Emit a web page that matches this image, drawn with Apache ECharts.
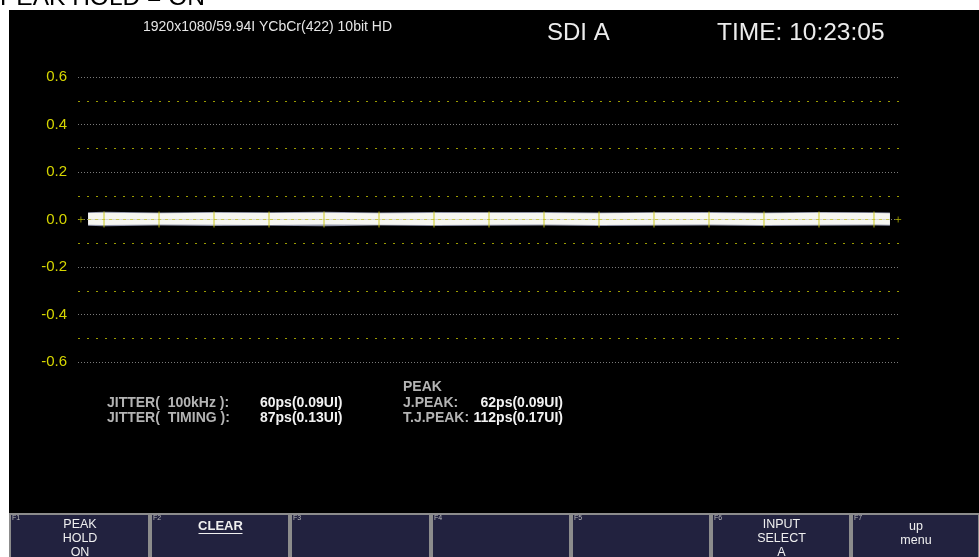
<!DOCTYPE html>
<html>
<head>
<meta charset="utf-8">
<script src="https://cdn.jsdelivr.net/npm/echarts@6/dist/echarts.min.js"></script>
<style>
html,body{margin:0;padding:0;background:#fff;}
#c{width:979px;height:557px;}
</style>
</head>
<body>
<div id="c"></div>
<script>
// ---- data ----
const yTickLabels = ['-0.6','-0.4','-0.2','0.0','0.2','0.4','0.6'];
const traceX     = [0.71, 1, 2, 3, 4, 5, 6, 7, 8, 9, 10, 11, 12, 13, 14, 15, 15.29];
const traceUpper = [0.027,0.028,0.026,0.028,0.027,0.028,0.026,0.027,0.028,0.027,0.026,0.028,0.027,0.026,0.028,0.027,0.026];
const traceLower = [-0.022,-0.023,-0.021,-0.022,-0.023,-0.021,-0.022,-0.023,-0.022,-0.021,-0.023,-0.022,-0.021,-0.023,-0.022,-0.021,-0.022];
const haloUpper  = [0.031,0.033,0.030,0.032,0.031,0.033,0.030,0.032,0.031,0.032,0.030,0.031,0.032,0.030,0.032,0.031,0.030];
const haloLower  = [-0.026,-0.028,-0.025,-0.027,-0.026,-0.028,-0.025,-0.027,-0.026,-0.025,-0.027,-0.026,-0.025,-0.027,-0.026,-0.025,-0.026];
const tickX      = [1,2,3,4,5,6,7,8,9,10,11,12,13,14,15];
const endMarksX  = [0.58, 15.44];

const headerFormat = '1920x1080/59.94I YCbCr(422) 10bit HD';
const inputName = 'SDI A';
const timeText = 'TIME: 10:23:05';
const modeText = 'PEAK HOLD = ON';
const jitterLabels = ['JITTER(  100kHz ):', 'JITTER(  TIMING ):'];
const jitterValues = ['60ps(0.09UI)', '87ps(0.13UI)'];
const peakTitle = 'PEAK';
const peakLabels = ['J.PEAK:', 'T.J.PEAK:'];
const peakValues = ['62ps(0.09UI)', '112ps(0.17UI)'];
const fnKeys = [['PEAK','HOLD','ON'],['CLEAR'],[],[],[],['INPUT','SELECT','A'],['up','menu']];

// ---- layout ----
const FONT = '"Liberation Sans", Arial, sans-serif';
const chart = echarts.init(document.getElementById('c'), null, {renderer:'canvas'});

function pairs(xs, ys){ return xs.map((x,i)=>[x, ys[i]]); }

const graphics = [];
graphics.push({type:'rect', z:-100, silent:true, shape:{x:9,y:10,width:970,height:504}, style:{fill:'#000'}});
graphics.push({type:'text', x:0, y:-2, style:{text:modeText, font:'24.5px '+FONT, fill:'#000', textVerticalAlign:'middle'}});
graphics.push({type:'text', x:143, y:27, style:{text:headerFormat, font:'14px '+FONT, fill:'#e6e6e6', textVerticalAlign:'middle'}});
graphics.push({type:'text', x:547, y:33, style:{text:inputName, font:'24px '+FONT, fill:'#ececec', textVerticalAlign:'middle'}});
graphics.push({type:'text', x:717, y:33, style:{text:timeText, font:'24.5px '+FONT, fill:'#ececec', textVerticalAlign:'middle'}});

// jitter readouts
jitterLabels.forEach((t,i)=>{
  graphics.push({type:'text', x:107, y:403+i*15, style:{text:t, font:'bold 14px '+FONT, fill:'#b4b4b4', textVerticalAlign:'middle'}});
});
jitterValues.forEach((t,i)=>{
  graphics.push({type:'text', x:260, y:403+i*15, style:{text:t, font:'bold 14px '+FONT, fill:'#f2f2f2', textVerticalAlign:'middle'}});
});
graphics.push({type:'text', x:403, y:387, style:{text:peakTitle, font:'bold 14px '+FONT, fill:'#b4b4b4', textVerticalAlign:'middle'}});
peakLabels.forEach((t,i)=>{
  graphics.push({type:'text', x:403, y:403+i*15, style:{text:t, font:'bold 14px '+FONT, fill:'#b4b4b4', textVerticalAlign:'middle'}});
});
peakValues.forEach((t,i)=>{
  graphics.push({type:'text', x:563, y:403+i*15, style:{text:t, font:'bold 14px '+FONT, fill:'#f2f2f2', textAlign:'right', textVerticalAlign:'middle'}});
});

// function keys
const keyX = [9,150,290,431,571,711,851];
keyX.forEach((x,i)=>{
  const w = (i < keyX.length-1 ? keyX[i+1] : 980) - x - 1;
  graphics.push({type:'rect', shape:{x:x+1, y:514, width:w-1, height:50}, style:{fill:'#22223f', stroke:'#8c8c8c', lineWidth:2}});
  graphics.push({type:'text', x:x+3, y:518, style:{text:'F'+(i+1), font:'7px '+FONT, fill:'#bbbbbb', textVerticalAlign:'middle'}});
  const cx = x + w/2 + 1;
  const lines = fnKeys[i];
  if (i === 1) {
    graphics.push({type:'text', x:cx, y:526, style:{text:lines[0], font:'bold 13px '+FONT, fill:'#f0f0f0', textAlign:'center', textVerticalAlign:'middle'}});
    graphics.push({type:'line', shape:{x1:cx-22, y1:533.5, x2:cx+22, y2:533.5}, style:{stroke:'#f0f0f0', lineWidth:1}});
  } else if (i === 6) {
    lines.forEach((t,j)=>{
      graphics.push({type:'text', x:cx, y:527+j*14, style:{text:t, font:'12.5px '+FONT, fill:'#f0f0f0', textAlign:'center', textVerticalAlign:'middle'}});
    });
  } else {
    lines.forEach((t,j)=>{
      graphics.push({type:'text', x:cx, y:525+j*14, style:{text:t, font:'12.5px '+FONT, fill:'#f0f0f0', textAlign:'center', textVerticalAlign:'middle'}});
    });
  }
});

const option = {
  backgroundColor:'#ffffff',
  animation:false,
  grid:{left:78, right:79, top:77, bottom:195, containLabel:false},
  xAxis:{type:'value', min:0.527, max:15.473, show:false, splitLine:{show:false}},
  yAxis:{
    type:'value', min:-0.6, max:0.6, interval:0.2, splitNumber:6,
    axisLine:{show:false}, axisTick:{show:false},
    axisLabel:{color:'#d6d600', fontSize:15, fontFamily:FONT, margin:11,
      formatter:(v)=>{ const idx = Math.round((v+0.6)/0.2); return yTickLabels[idx]; }},
    splitLine:{show:true, lineStyle:{color:'#7a7a7a', type:[1,2], width:1}},
    minorTick:{show:false, splitNumber:2},
    minorSplitLine:{show:true, lineStyle:{color:'#9c9c00', type:[2,7], width:1}}
  },
  series:[
    {type:'line', data:pairs(traceX, haloUpper), symbol:'none', lineStyle:{width:0}, areaStyle:{color:'#8f93a8', opacity:1}, z:3},
    {type:'line', data:pairs(traceX, haloLower), symbol:'none', lineStyle:{width:0}, areaStyle:{color:'#8f93a8', opacity:1}, z:3},
    {type:'line', data:pairs(traceX, traceUpper), symbol:'none', lineStyle:{width:0}, areaStyle:{color:'#f6f6f0', opacity:1}, z:4},
    {type:'line', data:pairs(traceX, traceLower), symbol:'none', lineStyle:{width:0}, areaStyle:{color:'#f6f6f0', opacity:1}, z:4},
    {type:'line', data:pairs([traceX[0], traceX[traceX.length-1]], [0,0]), symbol:'none', lineStyle:{color:'#c8c850', width:1, type:[3,4]}, z:5},
    {type:'scatter', data:tickX.map(x=>[x,0]), symbol:'rect', symbolSize:[1,16], itemStyle:{color:'#c8c400', opacity:0.85}, z:6},
    {type:'scatter', data:endMarksX.map(x=>[x,0]), symbol:'path://M0,4H8M4,0V8', symbolSize:[6,6], itemStyle:{color:'none', borderColor:'#a8a800', borderWidth:1}, z:6}
  ],
  graphic:graphics
};
chart.setOption(option);
</script>
</body>
</html>
